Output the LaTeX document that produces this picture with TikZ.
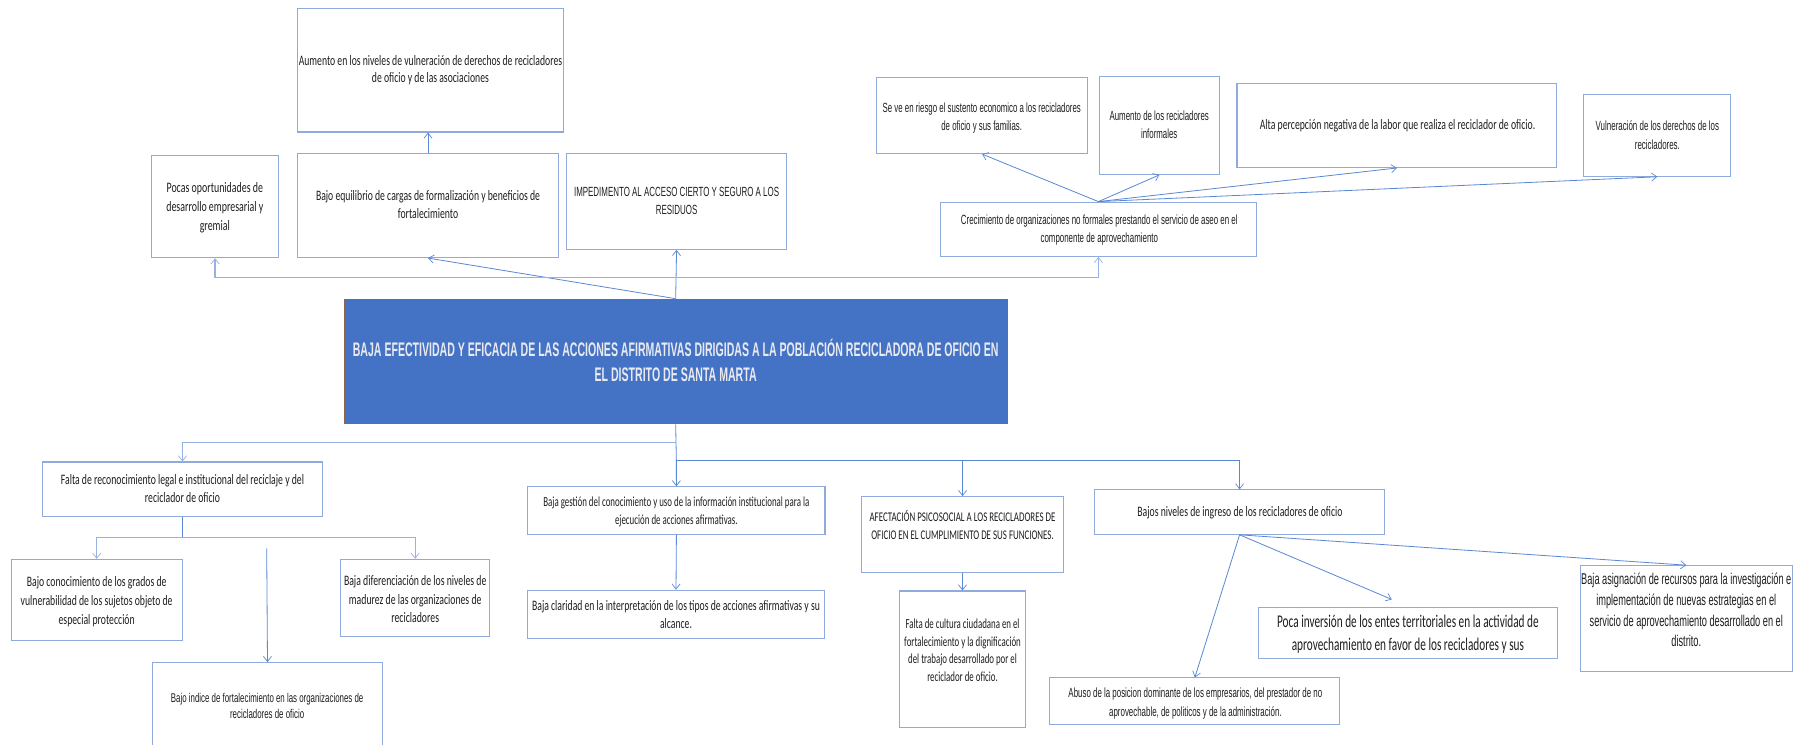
\documentclass[tikz,border=0pt]{standalone}
\usepackage{fontspec}
\usepackage{graphicx}
\setmainfont{Carlito}
\newfontfamily\arialn{Liberation Sans}
\usetikzlibrary{arrows.meta,fit}
\definecolor{boxc}{RGB}{143,170,220}
\definecolor{linec}{RGB}{91,136,212}
\definecolor{linel}{RGB}{150,178,226}
\definecolor{mainfill}{RGB}{68,114,196}
\definecolor{mainedge}{RGB}{140,100,70}
\definecolor{txtc}{RGB}{30,30,30}
\definecolor{titc}{RGB}{232,234,240}
\newcommand\tb[2]{\resizebox{#1pt}{\height}{\begin{tabular}{@{}c@{}}#2\end{tabular}}}
\begin{document}
\begin{tikzpicture}[x=1pt,y=-1pt,
  box/.style={draw=boxc,line width=0.9pt,inner sep=0pt},
  mainbox/.style={draw=mainedge,fill=mainfill,line width=0.8pt,inner sep=0pt},
  txt/.style 2 args={inner sep=0pt,text=txtc,font=\fontsize{#1}{#2}\selectfont},
  txta/.style 2 args={inner sep=0pt,text=txtc,font=\arialn\fontsize{#1}{#2}\selectfont},
  conn/.style={draw=linec,line width=0.7pt,-{Straight Barb[length=4.5pt,width=7pt,line width=0.6pt]}},
  connl/.style={draw=linel,line width=1pt,-{Straight Barb[length=4.5pt,width=7pt,line width=0.6pt]}},
  plain/.style={draw=linec,line width=0.7pt}]
\useasboundingbox (0,0) rectangle (1568,645);
\clip (0,0) rectangle (1568,645);
\fill[white] (0,0) rectangle (1568,645);

% ---------- boxes ----------
\node[box,fit={(257.5,7) (488,114.3)}] (aum) {};
\node[box,fit={(131,134.8) (241.4,223.1)}] (pocas) {};
\node[box,fit={(257.5,132.5) (483.7,223)}] (bajoeq) {};
\node[box,fit={(490.6,132.8) (681,215.9)}] (imp) {};
\node[mainbox,fit={(298,259) (872,367)}] (main) {};
\node[box,fit={(759,67) (941.7,133)}] (seve) {};
\node[box,fit={(951.7,66) (1055.8,151)}] (aumi) {};
\node[box,fit={(1071,72) (1348,145)}] (alta) {};
\node[box,fit={(1371.4,81.7) (1498.4,152.6)}] (vuln) {};
\node[box,fit={(814,175) (1088,222)}] (crec) {};
\node[box,fit={(36.6,400) (279.4,447.5)}] (falta) {};
\node[box,fit={(9.6,484.3) (157.9,554.7)}] (bcon) {};
\node[box,fit={(294.7,484.3) (424.2,551.2)}] (bdif) {};
\node[box,fit={(132.2,573.7) (331,700)}] (bind) {};
\node[box,fit={(457,421.5) (714.3,462.5)}] (bges) {};
\node[box,fit={(457,511) (713.6,553)}] (bcla) {};
\node[box,fit={(746,430) (920.8,495.5)}] (afec) {};
\node[box,fit={(779,511.7) (887.6,630)}] (fcul) {};
\node[box,fit={(948,424.2) (1198.5,462.6)}] (bniv) {};
\node[box,fit={(1089.7,525.8) (1348.6,570.3)}] (poca) {};
\node[box,fit={(1368,489.8) (1552,581.5)}] (basi) {};
\node[box,fit={(909,587) (1160,627)}] (abuso) {};

% ---------- texts ----------
\node[txt={12.5}{15.3}] (aumT) at (372.7,61) {\tb{228}{Aumento en los niveles de vulneración de derechos de recicladores\\de oficio y de las asociaciones}};
\node[txt={12.5}{16.5}] (pocasT) at (186,180) {\tb{84}{Pocas oportunidades de\\desarrollo empresarial y\\gremial}};
\node[txt={12.5}{16}] (bajoeqT) at (370.6,178) {\tb{194}{Bajo equilibrio de cargas de formalización y beneficios de\\fortalecimiento}};
\node[txta={11.5}{15.3}] (impT) at (585.8,175) {\tb{177.5}{IMPEDIMENTO AL ACCESO CIERTO Y SEGURO A LOS\\RESIDUOS}};
\node[inner sep=0pt,text=titc,font=\arialn\bfseries\fontsize{17}{21}\selectfont] (mainT) at (585,315) {\tb{559}{BAJA EFECTIVIDAD Y EFICACIA DE LAS ACCIONES AFIRMATIVAS DIRIGIDAS A LA POBLACIÓN RECICLADORA DE OFICIO EN\\EL DISTRITO DE SANTA MARTA}};
\node[txta={11.5}{16}] (seveT) at (850,102) {\tb{171.6}{Se ve en riesgo el sustento economico a los recicladores\\de oficio y sus familias.}};
\node[txta={11.5}{16}] (aumiT) at (1003.7,109) {\tb{86}{Aumento de los recicladores\\informales}};
\node[txt={12.5}{16}] (altaT) at (1210,109) {\tb{238.5}{Alta percepción negativa de la labor que realiza el reciclador de oficio.}};
\node[txta={11.5}{16}] (vulnT) at (1435,118) {\tb{106.8}{Vulneración de los derechos de los\\recicladores.}};
\node[txta={11.5}{16}] (crecT) at (951.8,199) {\tb{239.6}{Crecimiento de organizaciones no formales prestando el servicio de aseo en el\\componente de aprovechamiento}};
\node[txt={12.5}{16.4}] (faltaT) at (158,424) {\tb{210.5}{Falta de reconocimiento legal e institucional del reciclaje y del\\reciclador de oficio}};
\node[txt={12.5}{16.5}] (bconT) at (83.7,521) {\tb{131.5}{Bajo conocimiento de los grados de\\vulnerabilidad de los sujetos objeto de\\especial protección}};
\node[txt={12.5}{16.2}] (bdifT) at (359.5,519.8) {\tb{123.3}{Baja diferenciación de los niveles de\\madurez de las organizaciones de\\recicladores}};
\node[txta={11}{14}] (bindT) at (231.3,612) {\tb{166.6}{Bajo indice de fortalecimiento en las organizaciones de\\recicladores de oficio}};
\node[txt={12}{16}] (bgesT) at (585.6,443) {\tb{230.4}{Baja gestión del conocimiento y uso de la información institucional para la\\ejecución de acciones afirmativas.}};
\node[txt={12.5}{16}] (bclaT) at (585.3,533) {\tb{249.2}{Baja claridad en la interpretación de los tipos de acciones afirmativas y su\\alcance.}};
\node[txt={11.5}{16}] (afecT) at (833.4,456) {\tb{161}{AFECTACIÓN PSICOSOCIAL A LOS RECICLADORES DE\\OFICIO EN EL CUMPLIMIENTO DE SUS FUNCIONES.}};
\node[txt={12}{15.3}] (fculT) at (833.4,564) {\tb{101}{Falta de cultura ciudadana en el\\fortalecimiento y la dignificación\\del trabajo desarrollado por el\\reciclador de oficio.}};
\node[txt={12.5}{16}] (bnivT) at (1073.6,444.4) {\tb{177.7}{Bajos niveles de ingreso de los recicladores de oficio}};
\node[txt={15.5}{20.2}] (pocaT) at (1219,549.2) {\tb{226.5}{Poca inversión de los entes territoriales en la actividad de\\aprovechamiento en favor de los recicladores y sus}};
\node[txta={13.5}{18}] (basiT) at (1460,529.5) {\tb{182}{Baja asignación de recursos para la investigación e\\implementación de nuevas estrategias en el\\servicio de aprovechamiento desarrollado en el\\distrito.}};
\node[txta={11.5}{16}] (abusoT) at (1035,609) {\tb{219.8}{Abuso de la posicion dominante de los empresarios, del prestador de no\\aprovechable, de politicos y de la administración.}};

% ---------- connectors ----------
\coordinate (jt) at (585.6,240.4);
\coordinate (jb1) at (585.6,383.3);
\coordinate (jb2) at (585.6,398.5);
\coordinate (jf) at (158,465.2);
\coordinate (bindtail) at (230.9,474.7);
\coordinate (pocatip) at (1205,519);

\draw[conn] (main.north) -- (imp.south);
\draw[conn] (main.north) -- (bajoeq.south);
\draw[connl] (jt) -| (pocas.south);
\draw[connl] (jt) -| (crec.south);
\draw[conn] (bajoeq.north) -- (bajoeq.north |- aum.south);

\draw[conn] (crec.north) -- (seve.south);
\draw[conn] (crec.north) -- (aumi.south);
\draw[conn] (crec.north) -- (alta.south);
\draw[conn] (crec.north) -- (vuln.south);

\draw[plain] (main.south) -- (jb2);
\draw[connl] (jb1) -| (falta.north);
\draw[conn] (jb2) -- (bges.north);
\draw[conn] (jb2) -| (afec.north);
\draw[conn] (jb2) -| (bniv.north);

\draw[plain] (falta.south) -- (jf);
\draw[connl] (jf) -| (bcon.north);
\draw[connl] (jf) -| (bdif.north);
\draw[conn] (bindtail) -- (bind.north);

\draw[conn] (bges.south) -- (bcla.north);
\draw[conn] (afec.south) -- (fcul.north);

\draw[conn] (bniv.south) -- (abuso.north);
\draw[conn] (bniv.south) -- (pocatip);
\draw[conn] (bniv.south) -- (basi.north);
\end{tikzpicture}
\end{document}
